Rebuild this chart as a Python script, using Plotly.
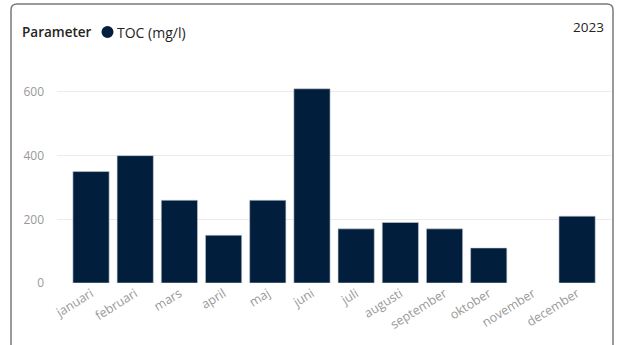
import plotly.graph_objects as go

months = ["januari", "februari", "mars", "april", "maj", "juni", "juli",
          "augusti", "september", "oktober", "november", "december"]
toc_values = [350, 400, 260, 150, 260, 610, 170, 190, 170, 110, None, 210]
y_ticks = [0, 200, 400, 600]
series_name = "TOC (mg/l)"
legend_title = "Parameter"
year_label = "2023"

bar_color = "#011E3D"
font_family = "Open Sans, Noto Sans, sans-serif"

fig = go.Figure()
fig.add_trace(go.Bar(
    x=months, y=toc_values, name=series_name,
    marker=dict(color=bar_color, line=dict(color="#C8CDD3", width=0.6)),
    showlegend=False,
))

L, R, T, B = 57, 11, 70, 62
W, H = 623, 345
pw, ph = W - L - R, H - T - B

def px_x(p):
    return (p - L) / pw

def px_y(p):
    return 1 - (p - T) / ph

r = 6
x0, x1, y0, y1 = px_x(11), px_x(613), px_y(360), px_y(4)
frame_path = (
    "M {a},{b} L {a},{c} Q {a},{d} {e},{d} L {f},{d} Q {g},{d} {g},{c} L {g},{b}"
).format(a=x0, b=y0, c=px_y(4 + r), d=y1, e=px_x(11 + r), f=px_x(613 - r), g=x1)

fig.update_layout(
    width=W, height=H,
    margin=dict(l=L, r=R, t=T, b=B, autoexpand=False),
    paper_bgcolor="white", plot_bgcolor="white",
    font=dict(family=font_family, color="#999999", size=12),
    bargap=0.18,
    xaxis=dict(
        range=[-0.77, 11.79], tickangle=-32, tickfont=dict(size=12.5, color="#999999"),
        showgrid=False, zeroline=False, showline=False, ticks="", automargin=False,
    ),
    yaxis=dict(
        range=[0, 669], tickvals=y_ticks, showgrid=True, gridcolor="#EBEBEB",
        gridwidth=1, zeroline=False, showline=False, ticks="", automargin=False,
        tickfont=dict(size=12, color="#999999"), ticklabelstandoff=12,
    ),
    shapes=[
        dict(type="path", xref="paper", yref="paper", path=frame_path,
             line=dict(color="#7A7A7A", width=1.5), layer="below"),
        dict(type="circle", xref="paper", yref="paper",
             x0=px_x(101.5), x1=px_x(113.5), y0=px_y(38), y1=px_y(26),
             fillcolor=bar_color, line=dict(width=0)),
    ],
    annotations=[
        dict(text=legend_title, xref="paper", yref="paper",
             x=px_x(20), y=px_y(32), xanchor="left", yanchor="middle",
             showarrow=False, font=dict(size=13.5, color="#252423", weight=600)),
        dict(text=series_name, xref="paper", yref="paper",
             x=px_x(115), y=px_y(32), xanchor="left", yanchor="middle",
             showarrow=False, font=dict(size=14, color="#252423")),
        dict(text=year_label, xref="paper", yref="paper",
             x=px_x(606), y=px_y(27), xanchor="right", yanchor="middle",
             showarrow=False, font=dict(size=13.5, color="#252423")),
    ],
)

fig.write_html("out.html", config={"displayModeBar": False},
               post_script="document.body.style.margin='0';")
